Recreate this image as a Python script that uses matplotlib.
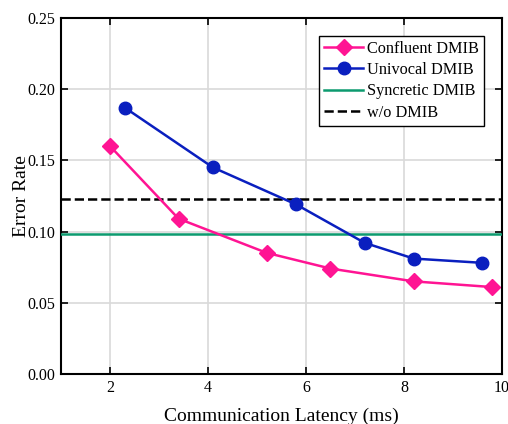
import matplotlib
matplotlib.use("Agg")
import matplotlib.pyplot as plt

# Data
conf_x = [2.0, 3.4, 5.2, 6.5, 8.2, 9.8]
conf_y = [0.160, 0.109, 0.085, 0.074, 0.065, 0.061]

uni_x = [2.3, 4.1, 5.8, 7.2, 8.2, 9.6]
uni_y = [0.187, 0.145, 0.119, 0.092, 0.081, 0.078]

syncretic = 0.098
no_dmib = 0.123

x_ticks = [2, 4, 6, 8, 10]
y_ticks = [0.00, 0.05, 0.10, 0.15, 0.20, 0.25]

plt.rcParams["font.family"] = ["Liberation Serif", "DejaVu Serif"]

fig = plt.figure(figsize=(5.08, 4.24), dpi=100)
ax = fig.add_axes([0.120, 0.118, 0.868, 0.840])

ax.plot(conf_x, conf_y, color="#ff1493", marker="D", markersize=8,
        linewidth=1.8, label="Confluent DMIB", zorder=4)
ax.plot(uni_x, uni_y, color="#0a1fbf", marker="o", markersize=9,
        linewidth=1.8, label="Univocal DMIB", zorder=4)
ax.axhline(syncretic, color="#0c9a6f", linewidth=1.8, label="Syncretic DMIB", zorder=3)
ax.axhline(no_dmib, color="black", linestyle="--", linewidth=1.8, label="w/o DMIB", zorder=3)

ax.set_xlim(1, 10)
ax.set_ylim(0, 0.25)
ax.set_xticks(x_ticks)
ax.set_yticks(y_ticks)
ax.set_yticklabels([f"{v:.2f}" for v in y_ticks])
ax.grid(True, color="#d9d9d9", linewidth=1.2)
ax.set_axisbelow(True)

ax.tick_params(direction="in", top=True, right=True, labelsize=11.5, length=5,
               width=1.2, pad=4)
for s in ax.spines.values():
    s.set_linewidth(1.5)

ax.set_xlabel("Communication Latency (ms)", fontsize=14, labelpad=9)
ax.set_ylabel("Error Rate", fontsize=14, labelpad=-2)

leg = ax.legend(loc="upper right", fontsize=11.7, fancybox=False, edgecolor="black",
                framealpha=1, borderpad=0.3, labelspacing=0.33, handlelength=2.4,
                handletextpad=0.25, borderaxespad=1.1)
leg.get_frame().set_linewidth(1.0)

fig.savefig("out.png", dpi=100)
